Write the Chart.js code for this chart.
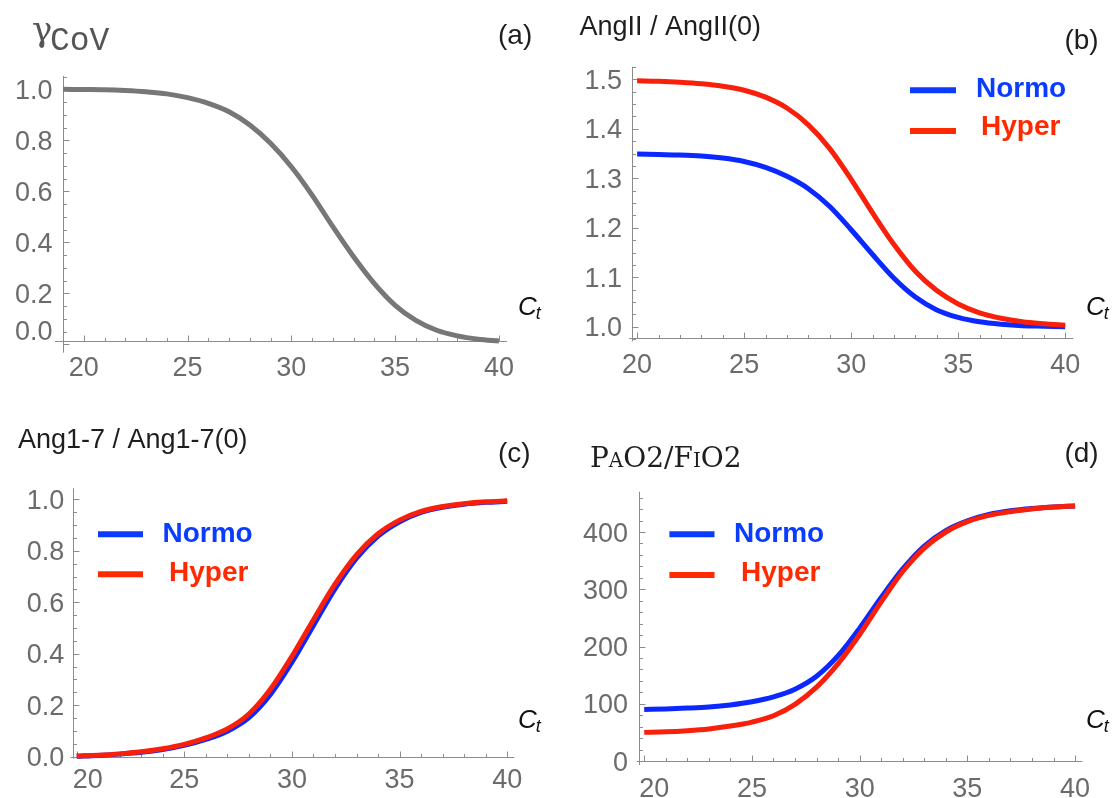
<!DOCTYPE html>
<html>
<head>
<meta charset="utf-8">
<script src="https://cdn.jsdelivr.net/npm/chart.js@4.4.1/dist/chart.umd.min.js"></script>
<style>
  html, body { margin: 0; padding: 0; background: #fff; }
  #pagina { position: relative; width: 1117px; height: 798px; overflow: hidden; }
  canvas { position: absolute; }
</style>
</head>
<body>
<div id="pagina">
  <canvas id="graficoA"></canvas>
  <canvas id="graficoB"></canvas>
  <canvas id="graficoC"></canvas>
  <canvas id="graficoD"></canvas>
</div>
<script>
// Valores de Ct
var ctA = [19, 20, 21, 22, 23, 24, 25, 26, 27, 28, 29, 30, 31, 32, 33, 34, 35, 36, 37, 38, 39, 40];
var ct = [20, 21, 22, 23, 24, 25, 26, 27, 28, 29, 30, 31, 32, 33, 34, 35, 36, 37, 38, 39, 40];

// (a) gamma CoV
var gammaCoV = [1.0, 0.999, 0.998, 0.995, 0.99, 0.982, 0.967, 0.945, 0.912, 0.86, 0.788,
  0.696, 0.585, 0.461, 0.343, 0.238, 0.153, 0.094, 0.055, 0.033, 0.02, 0.013];

// (b) AngII / AngII(0)
var angIINormo = [1.349, 1.348, 1.347, 1.345, 1.341, 1.334, 1.322, 1.304, 1.279, 1.243, 1.196,
  1.146, 1.098, 1.06, 1.034, 1.019, 1.01, 1.005, 1.002, 1.001, 1.0];
var angIIHyper = [1.497, 1.496, 1.494, 1.491, 1.486, 1.478, 1.464, 1.442, 1.408, 1.36, 1.298,
  1.23, 1.166, 1.112, 1.073, 1.046, 1.028, 1.017, 1.01, 1.006, 1.003];

// (c) Ang1-7 / Ang1-7(0)
var ang17Normo = [0.002, 0.005, 0.01, 0.017, 0.028, 0.044, 0.067, 0.099, 0.152, 0.242, 0.367,
  0.51, 0.652, 0.771, 0.857, 0.913, 0.949, 0.969, 0.981, 0.988, 0.992];
var ang17Hyper = [0.003, 0.006, 0.011, 0.019, 0.031, 0.048, 0.073, 0.108, 0.166, 0.262, 0.39,
  0.532, 0.67, 0.784, 0.866, 0.919, 0.953, 0.972, 0.983, 0.99, 0.994];

// (d) PaO2/FiO2
var pafiNormo = [90, 91, 92.5, 94.5, 98, 103.5, 112, 125.5, 148, 184, 232,
  285.5, 335.5, 375.5, 402.5, 419.5, 430.5, 437, 441, 443.5, 445.5];
var pafiHyper = [50, 51, 53, 56, 61, 68, 79, 99, 129, 170, 221,
  278, 331, 372, 400, 418, 429, 435.5, 440, 443.5, 445.5];

// Marcas dos eixos
var xTicks = [20, 25, 30, 35, 40];
var yTicksA = [0, 0.2, 0.4, 0.6, 0.8, 1.0];
var yTicksB = [1.0, 1.1, 1.2, 1.3, 1.4, 1.5];
var yTicksC = [0, 0.2, 0.4, 0.6, 0.8, 1.0];
var yTicksD = [0, 100, 200, 300, 400];

var nomes = ["Normo", "Hyper"];

var corEixo = "#8c8c8c";
var corRotulo = "#6b6b6b";
var corTexto = "#1e1e1e";
var azul = "#0a28ff";
var vermelho = "#f8200a";
var azulLegenda = "#0a3cff";
var vermelhoLegenda = "#ff2a00";
var fonteRotulo = "27px 'Liberation Sans', Arial, sans-serif";
var fonteTitulo = "27px 'Liberation Sans', Arial, sans-serif";
var fontePainel = "28px 'Liberation Sans', Arial, sans-serif";
var fonteLegenda = "bold 28px 'Liberation Sans', Arial, sans-serif";

function pontos(xs, ys) {
  return xs.map(function (x, i) { return { x: x, y: ys[i] }; });
}

function serie(rotulo, xs, ys, cor, corLegenda, ordem) {
  return {
    label: rotulo,
    data: pontos(xs, ys),
    borderColor: cor,
    corLegenda: corLegenda,
    borderWidth: 5,
    pointRadius: 0,
    cubicInterpolationMode: "monotone",
    fill: false,
    clip: false,
    order: ordem
  };
}

function rotuloCt(x, y) {
  return { t: "C", sub: "t", x: x, y: y };
}

// Configuração de cada painel (coordenadas da página)
var paineis = [
  {
    id: "graficoA",
    caixa: { left: 0, top: 0, w: 558, h: 400 },
    area: { left: 63, right: 507, top: 76, bottom: 340.7 },
    x: { min: 19, max: 40.39, ticks: xTicks, passo: 1, base: 376, deslocar: {} },
    y: { min: 0.014, max: 1.052, ticks: yTicksA, passo: 0.05, casas: 1, direita: 52.5, deslocar: { 0: -14 } },
    sobraX: 8, sobraY: 12,
    datasets: [serie("γCoV", ctA, gammaCoV, "#777777", "#777777", 0)],
    textos: [
      { t: "γ", x: 32, y: 41, fonte: "34px 'DejaVu Serif', serif", cor: "#555" },
      { t: "CoV", x: 50, y: 50, fonte: "33px 'Liberation Mono', monospace", cor: "#555" },
      { t: "(a)", x: 498, y: 44, fonte: fontePainel, cor: corTexto },
      rotuloCt(518, 315)
    ]
  },
  {
    id: "graficoB",
    caixa: { left: 558, top: 0, w: 559, h: 400 },
    area: { left: 632.1, right: 1073.3, top: 66.7, bottom: 338.3 },
    x: { min: 19.766, max: 40.378, ticks: xTicks, passo: 1, base: 373, deslocar: {} },
    y: { min: 0.9766, max: 1.5255, ticks: yTicksB, passo: 0.025, casas: 1, direita: 622, deslocar: {} },
    sobraX: 3, sobraY: 3,
    datasets: [
      serie(nomes[0], ct, angIINormo, azul, azulLegenda, 1),
      serie(nomes[1], ct, angIIHyper, vermelho, vermelhoLegenda, 0)
    ],
    legenda: { x1: 910, x2: 956, linhas: [90.3, 131], textoX: [976, 981], base: [96.7, 135] },
    textos: [
      { t: "AngII / AngII(0)", x: 579.5, y: 35, fonte: fonteTitulo, cor: corTexto },
      { t: "(b)", x: 1064.4, y: 49, fonte: fontePainel, cor: corTexto },
      rotuloCt(1086, 315)
    ]
  },
  {
    id: "graficoC",
    caixa: { left: 0, top: 400, w: 558, h: 398 },
    area: { left: 72.5, right: 514.3, top: 488.3, bottom: 756.7 },
    x: { min: 19.805, max: 40.33, ticks: xTicks, passo: 1, base: 788, deslocar: { 0: 11 } },
    y: { min: 0, max: 1.0427, ticks: yTicksC, passo: 0.05, casas: 1, direita: 64.3, deslocar: {} },
    sobraX: 2, sobraY: 2,
    datasets: [
      serie(nomes[0], ct, ang17Normo, azul, azulLegenda, 1),
      serie(nomes[1], ct, ang17Hyper, vermelho, vermelhoLegenda, 0)
    ],
    legenda: { x1: 98, x2: 143, linhas: [534.3, 574.3], textoX: [162.5, 169], base: [541.7, 581] },
    textos: [
      { t: "Ang1-7 / Ang1-7(0)", x: 17.9, y: 448.3, fonte: fonteTitulo, cor: corTexto },
      { t: "(c)", x: 498, y: 462.4, fonte: fontePainel, cor: corTexto },
      rotuloCt(518, 728)
    ]
  },
  {
    id: "graficoD",
    caixa: { left: 558, top: 400, w: 559, h: 398 },
    area: { left: 638.9, right: 1082.2, top: 491.7, bottom: 761 },
    x: { min: 19.754, max: 40.33, ticks: xTicks, passo: 1, base: 796.5, deslocar: { 0: 10 } },
    y: { min: 0, max: 470.4, ticks: yTicksD, passo: 20, casas: 0, direita: 628, deslocar: {} },
    sobraX: 2, sobraY: 4,
    datasets: [
      serie(nomes[0], ct, pafiNormo, azul, azulLegenda, 1),
      serie(nomes[1], ct, pafiHyper, vermelho, vermelhoLegenda, 0)
    ],
    legenda: { x1: 669.4, x2: 714.5, linhas: [534.3, 575], textoX: [734, 741], base: [541.7, 581] },
    textos: [
      { t: "PaO2/FiO2", x: 590, y: 466.7, fonte: "small-caps 28px 'DejaVu Serif', serif", cor: corTexto },
      { t: "(d)", x: 1064.4, y: 462.4, fonte: fontePainel, cor: corTexto },
      rotuloCt(1086, 728)
    ]
  }
];

// Valores das marcas menores dentro de um intervalo
function marcas(vmin, vmax, passo) {
  var lista = [];
  var k0 = Math.ceil(vmin / passo - 1e-9);
  var k1 = Math.floor(vmax / passo + 1e-9);
  for (var k = k0; k <= k1; k++) lista.push(k * passo);
  return lista;
}

function ehMaior(v, ticks) {
  return ticks.some(function (t) { return Math.abs(t - v) < 1e-9; });
}

// Eixos no estilo do Mathematica: linhas cinzas com marcas para dentro
function desenharEixos(chart, p) {
  var ctx = chart.ctx;
  var area = chart.chartArea;
  var sx = chart.scales.x;
  var sy = chart.scales.y;
  var ox = p.caixa.left;
  var oy = p.caixa.top;
  var x0 = Math.round(area.left) + 0.5;
  var y0 = Math.round(area.bottom) + 0.5;
  var yFim = area.bottom + p.sobraY;

  ctx.save();
  ctx.strokeStyle = corEixo;
  ctx.lineWidth = 1;
  ctx.beginPath();
  ctx.moveTo(area.left - p.sobraX, y0);
  ctx.lineTo(area.right, y0);
  ctx.moveTo(x0, area.top);
  ctx.lineTo(x0, yFim);

  marcas(p.x.min, p.x.max, p.x.passo).forEach(function (v) {
    var px = Math.round(sx.getPixelForValue(v)) + 0.5;
    var tam = ehMaior(v, p.x.ticks) ? 6 : 3.5;
    ctx.moveTo(px, y0);
    ctx.lineTo(px, y0 - tam);
  });

  var vBaixo = sy.getValueForPixel(yFim);
  marcas(vBaixo, p.y.max, p.y.passo).forEach(function (v) {
    var py = Math.round(sy.getPixelForValue(v)) + 0.5;
    var tam = ehMaior(v, p.y.ticks) ? 6 : 3.5;
    ctx.moveTo(x0, py);
    ctx.lineTo(x0 + tam, py);
  });
  ctx.stroke();

  // Rótulos das marcas
  ctx.fillStyle = corRotulo;
  ctx.font = fonteRotulo;
  ctx.textBaseline = "alphabetic";
  ctx.textAlign = "center";
  p.x.ticks.forEach(function (v, i) {
    var px = sx.getPixelForValue(v) + (p.x.deslocar[i] || 0);
    ctx.fillText(String(v), px, p.x.base - oy);
  });
  ctx.textAlign = "right";
  p.y.ticks.forEach(function (v, i) {
    var py = sy.getPixelForValue(v) + 9.7 + (p.y.deslocar[i] || 0);
    ctx.fillText(v.toFixed(p.y.casas), p.y.direita - ox, py);
  });
  ctx.restore();
}

// Títulos, letras dos painéis, rótulo Ct e legenda
function desenharTextos(chart, p) {
  var ctx = chart.ctx;
  var ox = p.caixa.left;
  var oy = p.caixa.top;
  ctx.save();
  ctx.textAlign = "left";
  ctx.textBaseline = "alphabetic";

  p.textos.forEach(function (item) {
    if (item.sub) {
      ctx.fillStyle = "#111";
      ctx.font = "italic 26px 'Liberation Sans', Arial, sans-serif";
      ctx.fillText(item.t, item.x - ox, item.y - oy);
      var w = ctx.measureText(item.t).width;
      ctx.font = "italic 18px 'Liberation Sans', Arial, sans-serif";
      ctx.fillText(item.sub, item.x - ox + w - 1, item.y - oy + 4);
    } else {
      ctx.fillStyle = item.cor;
      ctx.font = item.fonte;
      ctx.fillText(item.t, item.x - ox, item.y - oy);
    }
  });

  if (p.legenda) {
    var leg = p.legenda;
    chart.data.datasets.forEach(function (ds, i) {
      ctx.strokeStyle = ds.corLegenda;
      ctx.lineWidth = 6;
      ctx.lineCap = "butt";
      ctx.beginPath();
      ctx.moveTo(leg.x1 - ox, leg.linhas[i] - oy);
      ctx.lineTo(leg.x2 - ox, leg.linhas[i] - oy);
      ctx.stroke();
      ctx.fillStyle = ds.corLegenda;
      ctx.font = fonteLegenda;
      ctx.fillText(ds.label, leg.textoX[i] - ox, leg.base[i] - oy);
    });
  }
  ctx.restore();
}

function criarPlugin(p) {
  return {
    id: "eixos_" + p.id,
    beforeDatasetsDraw: function (chart) { desenharEixos(chart, p); },
    afterDatasetsDraw: function (chart) { desenharTextos(chart, p); }
  };
}

paineis.forEach(function (p) {
  var canvas = document.getElementById(p.id);
  canvas.width = p.caixa.w;
  canvas.height = p.caixa.h;
  canvas.style.left = p.caixa.left + "px";
  canvas.style.top = p.caixa.top + "px";

  new Chart(canvas, {
    type: "line",
    data: { datasets: p.datasets },
    options: {
      responsive: false,
      animation: false,
      devicePixelRatio: 1,
      events: [],
      layout: {
        padding: {
          left: p.area.left - p.caixa.left,
          right: p.caixa.w - (p.area.right - p.caixa.left),
          top: p.area.top - p.caixa.top,
          bottom: p.caixa.h - (p.area.bottom - p.caixa.top)
        }
      },
      scales: {
        x: { type: "linear", display: false, min: p.x.min, max: p.x.max },
        y: { type: "linear", display: false, min: p.y.min, max: p.y.max }
      },
      plugins: {
        legend: { display: false },
        tooltip: { enabled: false }
      }
    },
    plugins: [criarPlugin(p)]
  });
});
</script>
</body>
</html>
